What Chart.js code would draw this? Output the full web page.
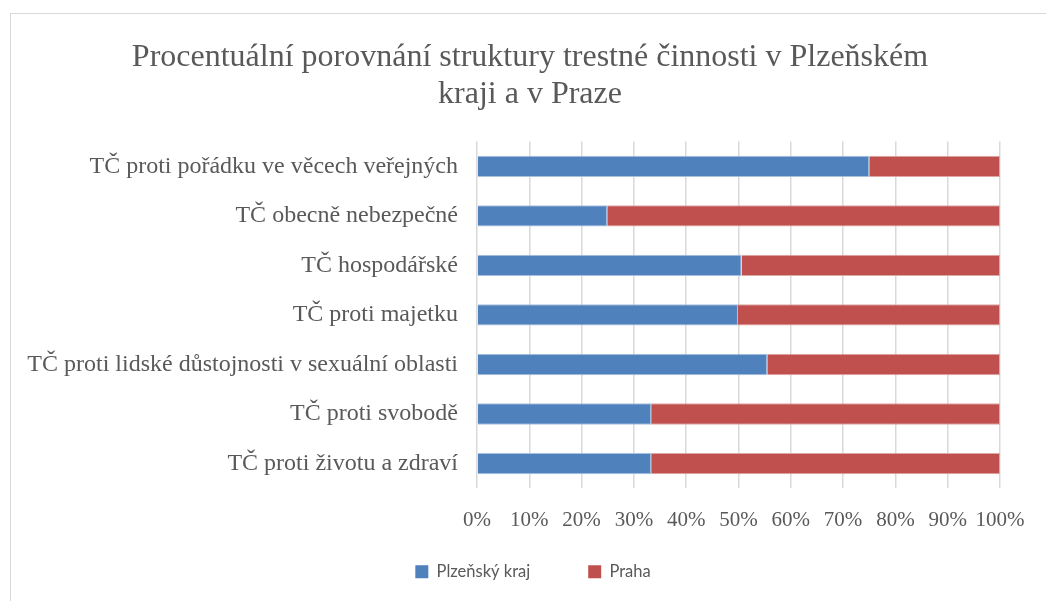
<!DOCTYPE html>
<html>
<head>
<meta charset="utf-8">
<script src="https://cdn.jsdelivr.net/npm/chart.js@4"></script>
<style>
  html, body { margin: 0; padding: 0; background: #fff; }
  #wrap { position: relative; width: 1046px; height: 601px; }
  #frame { position: absolute; left: 10px; top: 13px; width: 1040px; height: 600px;
           border-left: 1px solid #d9d9d9; border-top: 1px solid #d9d9d9; }
  canvas { position: absolute; left: 0; top: 0; }
</style>
</head>
<body>
<div id="wrap">
  <div id="frame"></div>
  <canvas id="chart" width="1046" height="601"></canvas>
</div>
<script>
// ── Data ──────────────────────────────────────────────────────────────────
const categories = [
  "TČ proti pořádku ve věcech veřejných",
  "TČ obecně nebezpečné",
  "TČ hospodářské",
  "TČ proti majetku",
  "TČ proti lidské důstojnosti v sexuální oblasti",
  "TČ proti svobodě",
  "TČ proti životu a zdraví",
];
const plzenValues = [75.0, 24.9, 50.6, 49.9, 55.5, 33.3, 33.3];
const prahaValues = [25.0, 75.1, 49.4, 50.1, 44.5, 66.7, 66.7];
const xTicks = [0, 10, 20, 30, 40, 50, 60, 70, 80, 90, 100];

const serif = "'Liberation Serif', 'Times New Roman', serif";
const textGray = "#595959";

// Excel centres title/legend on the whole frame, not on the plot box
const shiftBlocks = {
  id: "shiftBlocks",
  afterLayout(chart) {
    const t = chart.titleBlock, l = chart.legend;
    if (t) { t.left += 22; t.right += 22; }
    if (l) { l.left += 25; l.right += 25; l.top -= 48; l.bottom -= 48; }
  },
};

new Chart(document.getElementById("chart"), {
  type: "bar",
  data: {
    labels: categories,
    datasets: [
      { label: "Plzeňský kraj", data: plzenValues, backgroundColor: "#4f81bd",
        borderColor: "#a7c0de", borderWidth: 1, barPercentage: 0.43, categoryPercentage: 1 },
      { label: "Praha", data: prahaValues, backgroundColor: "#c0504d",
        borderColor: "#dea6a5", borderWidth: 1, barPercentage: 0.43, categoryPercentage: 1 },
    ],
  },
  plugins: [shiftBlocks],
  options: {
    indexAxis: "y",
    responsive: false,
    animation: false,
    layout: { padding: { left: 16, right: 46, top: 18, bottom: -37 } },
    plugins: {
      title: {
        display: true,
        text: ["Procentuální porovnání struktury trestné činnosti v Plzeňském", "kraji a v Praze"],
        color: textGray,
        font: { family: serif, size: 32, weight: "normal", lineHeight: 1.15 },
        padding: { top: 21, bottom: 29 },
      },
      legend: {
        position: "bottom",
        labels: {
          color: textGray,
          font: { family: "Lato, sans-serif", size: 16.5 },
          boxWidth: 13, boxHeight: 13, padding: 58,
          generateLabels: chart => chart.data.datasets.map((ds, i) => ({
            text: ds.label, fillStyle: ds.backgroundColor, strokeStyle: ds.backgroundColor,
            lineWidth: 0, datasetIndex: i, fontColor: textGray,
          })),
        },
      },
      tooltip: { enabled: false },
    },
    scales: {
      x: {
        stacked: true, min: 0, max: 100,
        afterBuildTicks: axis => { axis.ticks = xTicks.map(v => ({ value: v })); },
        grid: { color: "#d9d9d9", lineWidth: 1.5, drawTicks: false },
        border: { display: false },
        ticks: { color: textGray, font: { family: serif, size: 21 }, padding: 20,
                 maxRotation: 0, minRotation: 0, autoSkip: false,
                 callback: v => v + "%" },
      },
      y: {
        stacked: true,
        afterFit: axis => { axis.width = 461; },
        grid: { display: false },
        border: { display: false },
        ticks: { color: textGray, font: { family: serif, size: 24 }, padding: 11 },
      },
    },
  },
});
</script>
</body>
</html>
